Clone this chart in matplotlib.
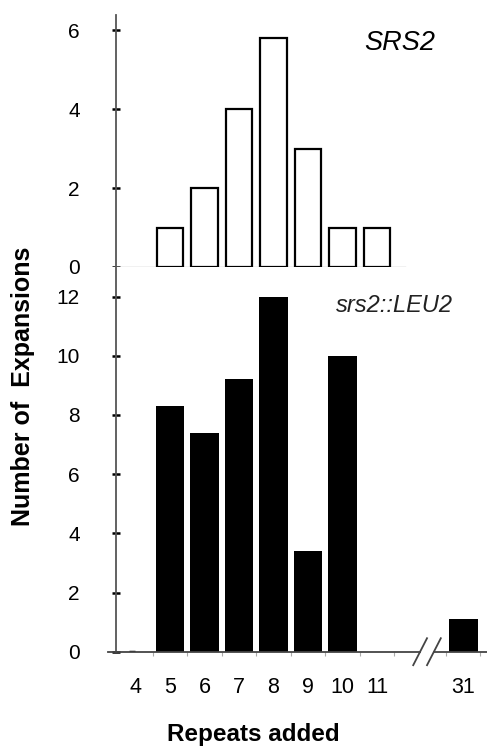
import numpy as np
import matplotlib.pyplot as plt

plt.rcParams['font.family'] = ['Liberation Sans', 'DejaVu Sans']

# data
top_cats = [5, 6, 7, 8, 9, 10, 11]
top_vals = [1, 2, 4, 5.8, 3, 1, 1]

bot_cats = [4, 5, 6, 7, 8, 9, 10]
bot_vals = [0, 8.3, 7.4, 9.2, 12, 3.4, 10]
far_label = '31'
far_val = 1.1
far_pos = 13.5   # position after the axis break

xlabels = ['4', '5', '6', '7', '8', '9', '10', '11', far_label]
xlabel_pos = [4, 5, 6, 7, 8, 9, 10, 11, far_pos]

W, H = 487, 748
fig = plt.figure(figsize=(W / 100, H / 100), dpi=100)

def px(l, t, r, b):
    return [l / W, 1 - b / H, (r - l) / W, (b - t) / H]

unit = 34.5  # pixels per category
x0 = 3.435

# ---- top panel (SRS2)
ax1 = fig.add_axes(px(116, 15, 405, 267))
ax1.bar(top_cats, top_vals, width=0.76, color='white', edgecolor='black', linewidth=1.6, zorder=3)
ax1.set_xlim(x0, x0 + (405 - 116) / unit)
ax1.set_ylim(0, 6.38)
ax1.set_yticks([0, 2, 4, 6])
ax1.set_xticks([])
ax1.set_xticks(np.arange(4.5, 12, 1), minor=True)
ax1.tick_params(axis='x', which='minor', direction='out', length=3, color='#bbbbbb', width=0.8)
ax1.tick_params(axis='y', direction='inout', length=6, width=1.8, color='black', pad=23, labelsize=15)
for s in ['top', 'right']:
    ax1.spines[s].set_visible(False)
ax1.spines['left'].set_color('#555555')
ax1.spines['left'].set_linewidth(1.3)
ax1.spines['bottom'].set_color('#bbbbbb')
ax1.spines['bottom'].set_linewidth(1.0)
ax1.text(0.983, 0.889, 'SRS2', transform=ax1.transAxes, ha='center', va='center',
         fontsize=19.5, style='italic', clip_on=False)

# ---- bottom panel (srs2::LEU2)
left_px = 108
ax2 = fig.add_axes(px(left_px, 267, 487, 651.7))
xl = x0 - (116 - left_px) / unit
ax2.bar(bot_cats[1:], bot_vals[1:], width=0.82, color='black', zorder=3)
ax2.bar(bot_cats[0] - 0.1, bot_vals[0], width=0.18, color='black', edgecolor='black', linewidth=2.5, zorder=3)
ax2.bar(far_pos, far_val, width=0.85, color='black', zorder=3)
ax2.set_xlim(xl, xl + (487 - left_px) / unit)
ax2.set_ylim(0, 13.0)
ax2.set_yticks([0, 2, 4, 6, 8, 10, 12])
ax2.set_xticks(xlabel_pos)
ax2.set_xticklabels(xlabels)
ax2.set_xticks(list(np.arange(4.5, 12, 1)) + [13, 14], minor=True)
ax2.tick_params(axis='x', which='major', length=0, pad=18, labelsize=15.5)
ax2.tick_params(axis='x', which='minor', direction='out', length=3, color='#aaaaaa', width=0.8)
ax2.tick_params(axis='y', direction='inout', length=6, width=1.8, color='black', pad=23, labelsize=15)
for s in ['top', 'right', 'bottom']:
    ax2.spines[s].set_visible(False)
ax2.spines['left'].set_position(('data', x0))
ax2.spines['left'].set_color('#555555')
ax2.spines['left'].set_linewidth(1.3)

# x axis line with a break
tr = ax2.get_xaxis_transform()
b1, b2 = 12.25, 12.65
ax2.plot([xl, b1], [0, 0], transform=tr, color='#444444', lw=1.3, clip_on=False, zorder=4)
ax2.plot([b2, xl + 20], [0, 0], transform=tr, color='#444444', lw=1.3, clip_on=False, zorder=4)
for b in (b1, b2):
    ax2.plot([b - 0.2, b + 0.2], [-0.035, 0.035], transform=tr, color='#444444', lw=1.3,
             clip_on=False, zorder=4)

ax2.text(0.755, 0.901, 'srs2::LEU2', transform=ax2.transAxes, ha='center', va='center',
         fontsize=17, style='italic', color='#222222')

fig.text(23 / W, 1 - 386 / H, 'Number of  Expansions', rotation=90, ha='center', va='center',
         fontsize=18, fontweight='bold')
fig.text(253 / W, 1 - 735 / H, 'Repeats added', ha='center', va='center',
         fontsize=17.5, fontweight='bold')

fig.savefig('out.png', dpi=100)
